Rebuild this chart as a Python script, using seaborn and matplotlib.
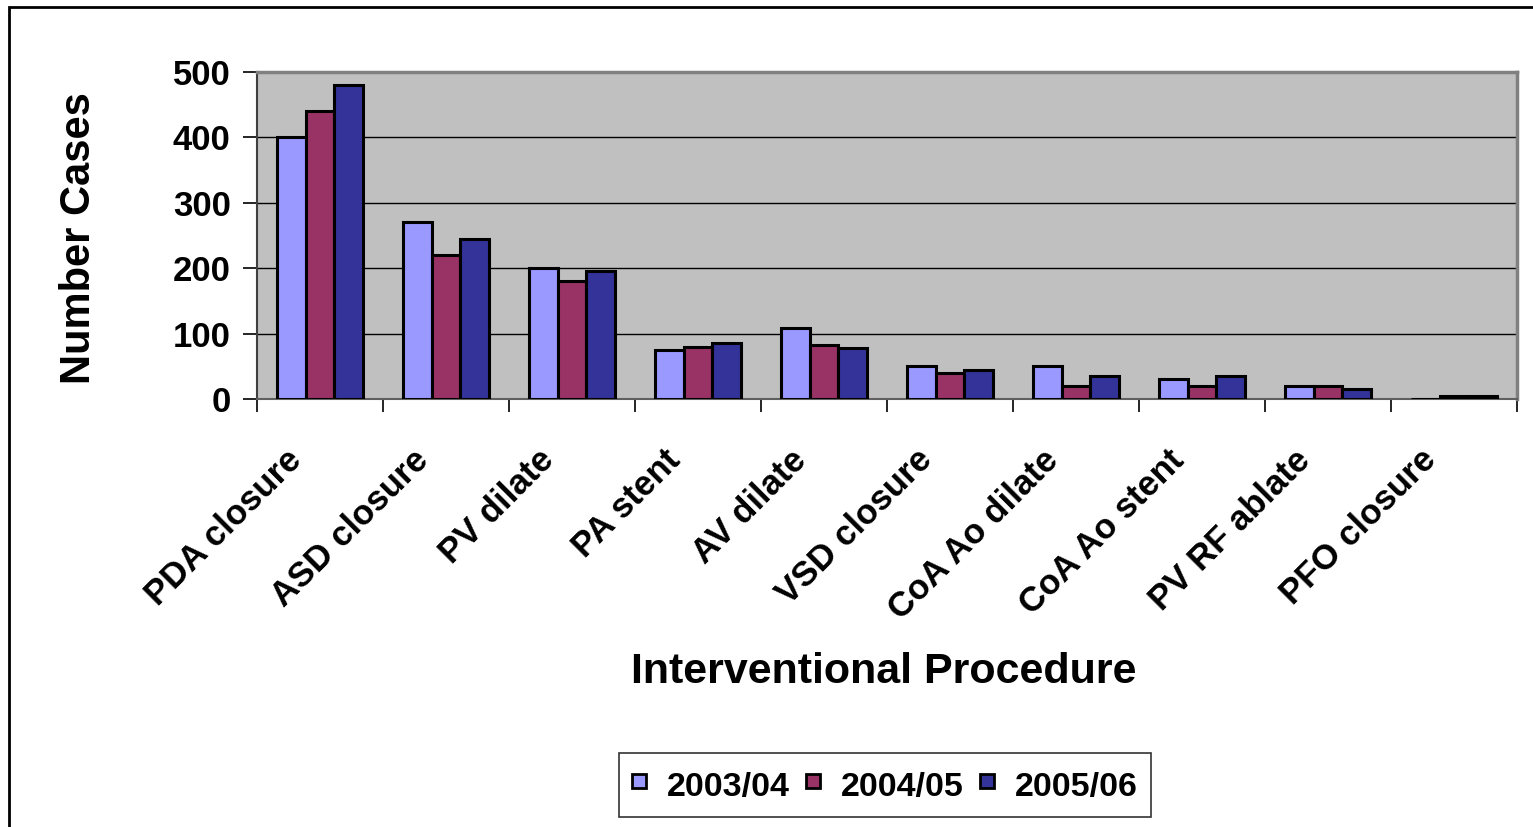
import matplotlib
matplotlib.use("Agg")
import matplotlib.pyplot as plt
import matplotlib.transforms as mtransforms
from matplotlib.patches import Rectangle
from matplotlib.lines import Line2D
import seaborn as sns
import pandas as pd

procedures = ["PDA closure", "ASD closure", "PV dilate", "PA stent", "AV dilate",
              "VSD closure", "CoA Ao dilate", "CoA Ao stent", "PV RF ablate", "PFO closure"]
years = ["2003/04", "2004/05", "2005/06"]
cases_2003 = [400, 270, 200, 75, 108, 50, 50, 30, 20, 0]
cases_2004 = [440, 220, 180, 80, 83, 40, 20, 20, 20, 5]
cases_2005 = [480, 245, 195, 85, 78, 45, 35, 35, 15, 5]
y_ticks = [0, 100, 200, 300, 400, 500]
colors = ["#9999FF", "#993366", "#333399"]

rows = []
for yr, vals in zip(years, [cases_2003, cases_2004, cases_2005]):
    for p, v in zip(procedures, vals):
        rows.append({"Procedure": p, "Cases": v, "Year": yr})
df = pd.DataFrame(rows)

sns.set_theme(style="white")
plt.rcParams["font.family"] = ["Liberation Sans", "DejaVu Sans"]
plt.rcParams["font.weight"] = "bold"
for k in ["text.color", "axes.labelcolor", "xtick.color", "ytick.color"]:
    plt.rcParams[k] = "black"

W, H = 1533, 827
fig = plt.figure(figsize=(W / 100, H / 100), dpi=100)
ax = fig.add_axes([257 / W, 1 - 399 / H, (1517 - 257) / W, (399 - 71.5) / H])
ax.set_facecolor("#C0C0C0")

sns.barplot(data=df, x="Procedure", y="Cases", hue="Year", order=procedures,
            hue_order=years, palette=colors, saturation=1, width=0.68,
            edgecolor="black", linewidth=2.2, ax=ax, legend=False, zorder=3)

ax.set_ylim(0, 500)
ax.set_xlim(-0.5, len(procedures) - 0.5)
ax.set_yticks(y_ticks)
ax.set_yticklabels([str(t) for t in y_ticks], fontsize=25, fontweight="bold", color="black")
for t in y_ticks[1:-1]:
    ax.axhline(t, color="black", linewidth=1, zorder=1)

ax.set_xticks(range(len(procedures)))
ax.set_xticklabels(procedures, rotation=45, ha="right", va="center",
                   rotation_mode="anchor", fontsize=25, fontweight="bold", color="black")
ax.tick_params(axis="x", which="major", length=0, pad=0)
ax.set_xticks([i - 0.5 for i in range(len(procedures) + 1)], minor=True)
ax.tick_params(axis="x", which="minor", length=9, width=1.2, color="black", direction="out")
ax.tick_params(axis="y", length=10, width=1.2, color="black", direction="out", pad=9)
ax.tick_params(axis="both", bottom=True, left=True, which="both")

offset = mtransforms.ScaledTranslation(-23 / 100, -56 / 100, fig.dpi_scale_trans)
for lab in ax.get_xticklabels():
    lab.set_transform(lab.get_transform() + offset)

ax.set_xlabel("")
ax.set_ylabel("")
for s in ["top", "right"]:
    ax.spines[s].set_color("#808080")
    ax.spines[s].set_linewidth(2.5)
ax.spines["left"].set_color("#404040")
ax.spines["left"].set_linewidth(1.5)
ax.spines["bottom"].set_color("#606060")
ax.spines["bottom"].set_linewidth(1.5)

fig.text(79 / W, 1 - 238 / H, "Number Cases", rotation=90, ha="center", va="center",
         fontsize=30, fontweight="bold", color="black")
fig.text(884 / W, 1 - 672 / H, "Interventional Procedure", ha="center", va="center",
         fontsize=31, fontweight="bold", color="black")

handles = [Line2D([], [], linestyle="None", marker="s", markersize=9.5,
                  markerfacecolor=c, markeredgecolor="black", markeredgewidth=2)
           for c in colors]
leg = fig.legend(handles, years, loc="center", bbox_to_anchor=(885 / W, 1 - 785 / H),
                 ncol=3, frameon=True, fancybox=False,
                 prop={"weight": "bold", "size": 24.5},
                 handlelength=0.4, handleheight=1.3, handletextpad=0.6,
                 columnspacing=0.5, borderpad=0.4, borderaxespad=0)
leg.get_frame().set_edgecolor("black")
leg.get_frame().set_linewidth(1.2)
for t in leg.get_texts():
    t.set_color("black")

fig.patches.append(Rectangle((9 / W, -0.1), 1.2, 1 - 7 / H + 0.1,
                             transform=fig.transFigure, fill=False,
                             edgecolor="black", linewidth=2, zorder=0))

fig.savefig("out.png", dpi=100, facecolor="white")
